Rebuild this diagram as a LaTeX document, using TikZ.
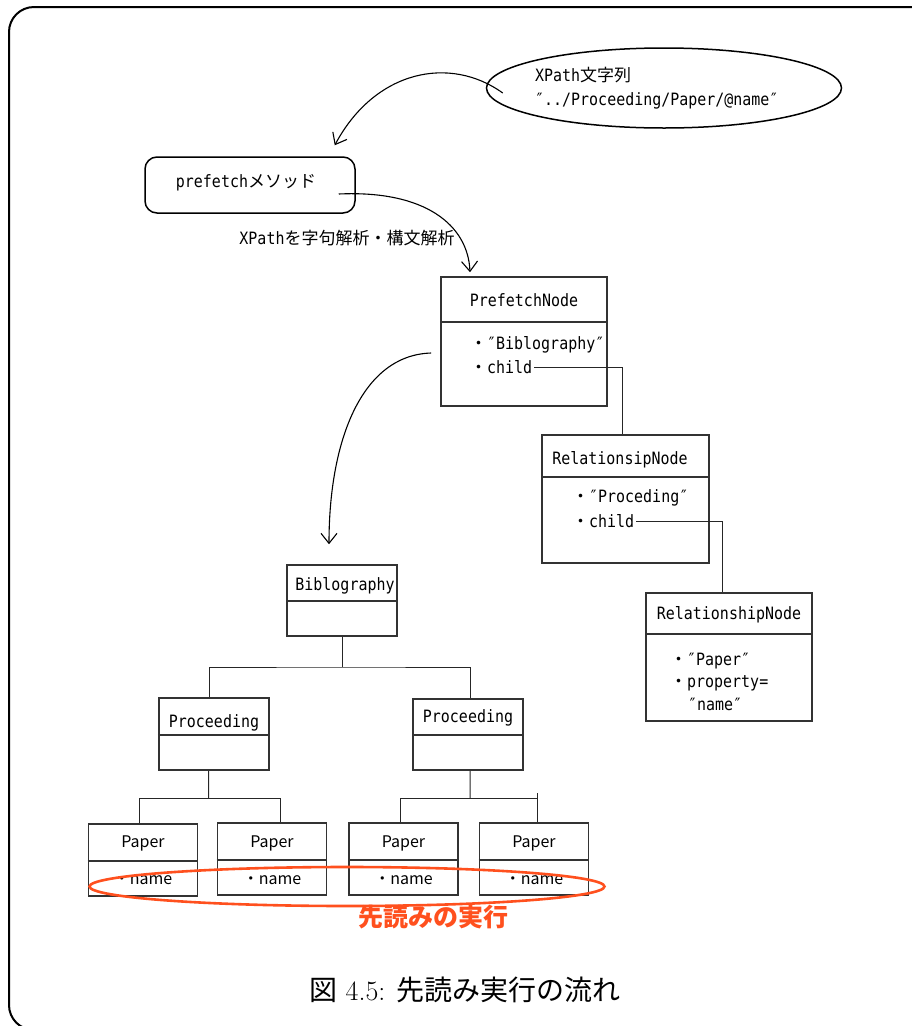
\documentclass[tikz,border=0pt]{standalone}
\usepackage{fontspec}
\usetikzlibrary{arrows.meta,calc,shapes.geometric}
\newfontfamily\gothic[FakeStretch=0.88]{DejaVu Sans Mono}
\newfontfamily\jp{Noto Sans CJK JP}
\newcommand{\jtxt}[1]{{\jp #1}}
\definecolor{accent}{RGB}{255,80,30}
\begin{document}
\begin{tikzpicture}[x=1pt,y=-1pt,
  outerframe/.style={draw=black, line width=2pt, rounded corners=25pt},
  cls/.style={draw=black!80, line width=1.6pt, fill=white, rectangle, inner sep=0pt},
  divider/.style={draw=black!80, line width=1.6pt},
  txt/.style={font=\gothic\fontsize{17}{20}\selectfont, inner sep=2pt},
  ptxt/.style={font=\jp\fontsize{16}{19}\selectfont, inner sep=2pt},
  link/.style={draw=black!85, line width=1pt},
  flow/.style={draw=black, line width=1.1pt, -{Straight Barb[length=10pt,width=16pt]}},
  hilite/.style={draw=accent, line width=2.6pt, ellipse, inner sep=0pt}
]
\useasboundingbox (0,0) rectangle (912,1026);

% outer frame
\draw[outerframe] (9,7) rectangle (935,1030);

% XPath string
\node[draw, ellipse, line width=1.5pt, inner sep=0pt, minimum width=355, minimum height=80] (xp) at (664,88) {};
\node[txt, anchor=west] (xp1) at (533,75) {XPath\jtxt{文字列}};
\node[txt, anchor=west] (xp2) at (533,101) {″../Proceeding/Paper/@name″};

% prefetch method
\node[draw, line width=1.5pt, rounded corners=12pt, minimum width=210, minimum height=56, inner sep=0pt] (pm) at (250,185) {};
\node[txt] (pmt) at (246,183) {prefetch\jtxt{メソッド}};

\node[txt] (lbl) at (347,238) {XPath\jtxt{を字句解析・構文解析}};

% PrefetchNode
\node[cls, minimum width=166, minimum height=129] (pf) at (524,341.5) {};
\draw[divider] ($(pf.north west)+(0,46)$) -- ($(pf.north east)+(0,46)$);
\node[txt] (pft) at (524,300) {PrefetchNode};
\node[txt, anchor=west] (pfa) at (468,345) {\jtxt{・}″Biblography″};
\node[txt, anchor=west] (pfc) at (468,367) {\jtxt{・}child};

% RelationsipNode
\node[cls, minimum width=167, minimum height=128] (rs1) at (625.5,499) {};
\draw[divider] ($(rs1.north west)+(0,43)$) -- ($(rs1.north east)+(0,43)$);
\node[txt] (rs1t) at (620,460) {RelationsipNode};
\node[txt, anchor=west] (rsa) at (570,498) {\jtxt{・}″Proceding″};
\node[txt, anchor=west] (rsc) at (570,521) {\jtxt{・}child};

% RelationshipNode
\node[cls, minimum width=166, minimum height=128] (rs2) at (729,657) {};
\draw[divider] ($(rs2.north west)+(0,42)$) -- ($(rs2.north east)+(0,42)$);
\node[txt] (rs2t) at (729,615) {RelationshipNode};
\node[txt, anchor=west] (rsp) at (668,661) {\jtxt{・}″Paper″};
\node[txt, anchor=west] (rsq) at (668,683) {\jtxt{・}property=};
\node[txt, anchor=west] (rsr) at (686,704) {″name″};

% child links
\draw[link] (pfc.east) -| ($(rs1.north)+(-3,0)$);
\draw[link] (rsc.east) -| ($(rs2.north)+(-7,0)$);

% document tree
\node[cls, minimum width=110, minimum height=71] (bib) at (342,600.5) {};
\draw[divider] ($(bib.north west)+(0,37)$) -- ($(bib.north east)+(0,37)$);
\node[txt] (bibt) at (345,586) {Biblography};

\node[cls, minimum width=110, minimum height=72] (pl) at (213.7,734) {};
\draw[divider] ($(pl.north west)+(0,38)$) -- ($(pl.north east)+(0,38)$);
\node[txt] (plt) at (214,723) {Proceeding};

\node[cls, minimum width=110, minimum height=71] (pr) at (468.2,734.5) {};
\draw[divider] ($(pr.north west)+(0,37)$) -- ($(pr.north east)+(0,37)$);
\node[txt] (prt) at (468,718) {Proceeding};

\foreach \n/\x/\y in {p1/143/860, p2/272/859, p3/403.5/859, p4/534/859}{
  \node[cls, minimum width=109, minimum height=72] (\n) at (\x,\y) {};
  \draw[divider] ($(\n.north west)+(0,38)$) -- ($(\n.north east)+(0,38)$);
  \node[ptxt] (\n t) at (\x,843) {Paper};
  \node[ptxt] (\n a) at (\x,880.5) {・name};
}

\coordinate (bj) at (342,667);
\draw[link] (bib.south) -- (bj);
\draw[link] ($(pl.north)+(-4.5,0)$) |- (bj) -| ($(pr.north)+(2,0)$);

\coordinate (lj) at (208.5,798);
\draw[link] ($(pl.south)+(-5,0)$) -- (lj);
\draw[link] ($(p1.north)+(-4,0)$) |- (lj) -| ($(p2.north)+(8,0)$);

\coordinate (rj) at (470,798);
\draw[link] ($(pr.south)+(2,0)$) -- (rj);
\draw[link] ($(p3.north)+(-3,0)$) |- (rj) -| ($(p4.north)+(3,0)$);
\draw[link] ($(p4.north)+(3,0)$) -- ++(0,-29);

% flow arrows
\draw[flow] ($(xp.west)+(17,5)$) .. controls (450,55) and (375,70) .. ($(pm.north east)+(-21,-11)$);
\draw[flow] ($(pm.east)+(-17,9)$) .. controls (425,190) and (468,225) .. ($(pf.north)+(-54,-4)$);
\draw[flow] ($(pf.west)+(-9,11.5)$) .. controls (362,355) and (329,440) .. ($(bib.north)+(-13,-20)$);

% prefetched attributes
\node[hilite, minimum width=515, minimum height=39] (sel) at (347,886.5) {};
\node[font=\jp\bfseries\fontsize{25}{28}\selectfont, text=accent, inner sep=0pt] (selt) at (433,917) {先読みの実行};

% caption
\node[font=\fontsize{28}{32}\selectfont, inner sep=0pt] (cap) at (465,990) {\jtxt{図} 4.5: \jtxt{先読み実行の流れ}};
\end{tikzpicture}
\end{document}
